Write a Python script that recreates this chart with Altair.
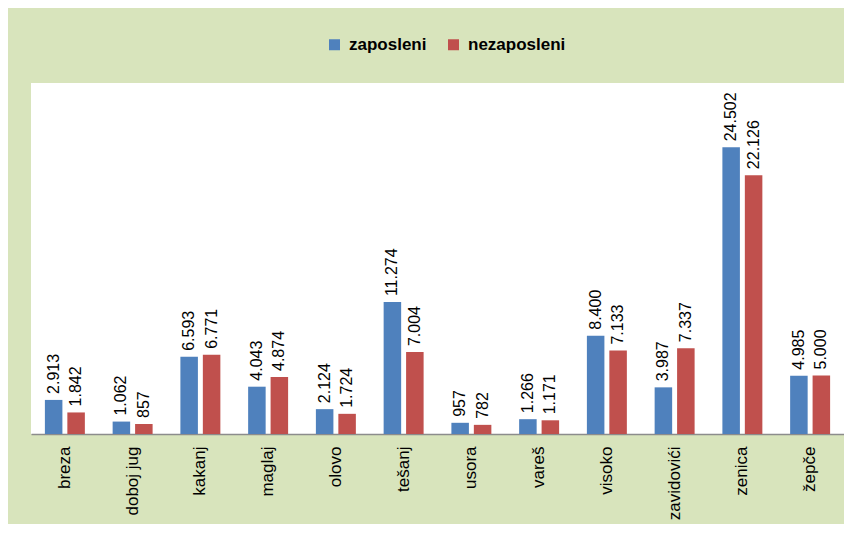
import altair as alt
import pandas as pd

categories = ["breza", "doboj jug", "kakanj", "maglaj", "olovo", "tešanj",
              "usora", "vareš", "visoko", "zavidovići", "zenica", "žepče"]
zaposleni = [2913, 1062, 6593, 4043, 2124, 11274, 957, 1266, 8400, 3987, 24502, 4985]
nezaposleni = [1842, 857, 6771, 4874, 1724, 7004, 782, 1171, 7133, 7337, 22126, 5000]
series = ["zaposleni", "nezaposleni"]
colors = ["#4f81bd", "#c0504d"]

rows = []
for c, a, b in zip(categories, zaposleni, nezaposleni):
    for s, v in zip(series, [a, b]):
        rows.append({"grad": c, "serija": s, "vrijednost": v,
                     "oznaka": f"{v:,}".replace(",", ".")})
df = pd.DataFrame(rows)

FONT = "Liberation Sans"

x = alt.X("grad:N", sort=categories,
          scale=alt.Scale(paddingInner=0.41, paddingOuter=0.205),
          axis=alt.Axis(title=None, labelAngle=-90, labelAlign="right",
                        labelBaseline="middle", labelPadding=12, ticks=False,
                        labelFontSize=17, labelFont=FONT, labelColor="#000000",
                        domainColor="#8c8c8c", domainWidth=1.5))
xo = alt.XOffset("serija:N", sort=series, scale=alt.Scale(paddingInner=0.22))
y = alt.Y("vrijednost:Q", scale=alt.Scale(domain=[0, 30000]), axis=None)

color = alt.Color("serija:N", sort=series,
                  scale=alt.Scale(domain=series, range=colors),
                  legend=alt.Legend(title=None, orient="none", direction="horizontal",
                                    legendX=295, legendY=-47,
                                    symbolType="square", symbolSize=121,
                                    symbolStrokeWidth=0, labelFont=FONT,
                                    labelFontWeight="bold", labelFontSize=17,
                                    labelColor="#000000", labelOffset=6,
                                    columnPadding=18))

bars = alt.Chart(df).mark_bar().encode(x=x, xOffset=xo, y=y, color=color)
labels = alt.Chart(df).mark_text(angle=270, align="left", baseline="middle", dx=6,
                                 font=FONT, fontSize=16, color="#000000").encode(
    x=x, xOffset=xo, y=y, text="oznaka:N")

chart = (bars + labels).properties(
    width=813, height=351, autosize="none",
    padding={"left": 23, "top": 75, "right": 0, "bottom": 90},
    background="#d8e4bc",
).configure_view(fill="#ffffff", stroke=None)

chart.save("out.html", embed_options={"renderer": "svg", "actions": False})
